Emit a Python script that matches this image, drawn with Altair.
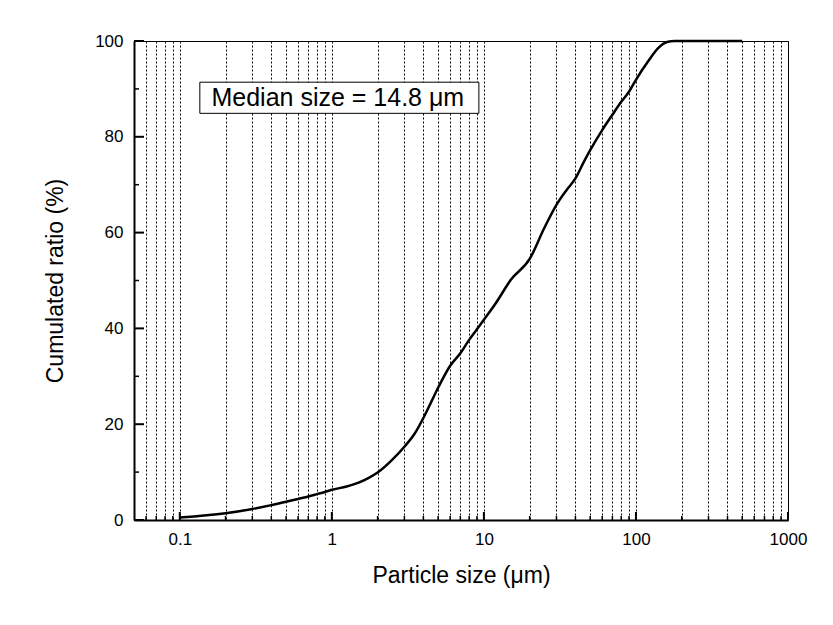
import altair as alt
import pandas as pd

# Cumulative particle size distribution
SIZE_UM = [0.1, 0.2, 0.3, 0.4, 0.5, 0.6, 0.7, 0.8, 0.9, 1.0, 1.25, 1.5, 1.75, 2.0, 2.5,
           3.0, 3.5, 4.0, 4.5, 5.0, 6.0, 7.0, 8.0, 9.0, 10.0, 12.0, 15.0, 20.0, 25.0,
           30.0, 35.0, 40.0, 45.0, 50.0, 60.0, 70.0, 80.0, 90.0, 100.0, 120.0, 140.0,
           160.0, 180.0, 200.0, 300.0, 500.0]
CUM_PCT = [0.5, 1.4, 2.3, 3.1, 3.8, 4.4, 4.9, 5.4, 5.85, 6.3, 7.0, 7.8, 8.8, 9.9, 12.6,
           15.3, 18.0, 21.3, 24.6, 27.6, 32.2, 34.8, 37.6, 39.8, 41.8, 45.3, 50.1, 54.5, 61.0,
           65.8, 68.9, 71.3, 74.5, 77.2, 81.4, 84.6, 87.3, 89.4, 91.9, 95.7, 98.5,
           99.8, 100.0, 100.0, 100.0, 100.0]

X_MAJOR = [0.1, 1, 10, 100, 1000]
X_MINOR = [0.06, 0.07, 0.08, 0.09,
           0.2, 0.3, 0.4, 0.5, 0.6, 0.7, 0.8, 0.9,
           2, 3, 4, 5, 6, 7, 8, 9,
           20, 30, 40, 50, 60, 70, 80, 90,
           200, 300, 400, 500, 600, 700, 800, 900]
Y_MAJOR = [0, 20, 40, 60, 80, 100]
Y_MINOR = [10, 30, 50, 70, 90]

ANNOT_TEXT = "Median size = 14.8 \u03bcm"

FONT = "Liberation Sans"
W, H = 654, 479

line_df = pd.DataFrame({"x": SIZE_UM, "y": CUM_PCT})
xmaj_df = pd.DataFrame({"x": X_MAJOR})
xmin_df = pd.DataFrame({"x": X_MINOR})
ymaj_df = pd.DataFrame({"y": Y_MAJOR})
ymin_df = pd.DataFrame({"y": Y_MINOR})
grid_vals = sorted(X_MAJOR + X_MINOR)

xscale = alt.Scale(type="log", domain=[0.05, 1000], nice=False)
yscale = alt.Scale(domain=[0, 100], nice=False, zero=True)

xaxis = alt.Axis(
    values=grid_vals, grid=True, gridDash=[2, 2], gridColor="black", gridWidth=1,
    gridOpacity=1, ticks=False, tickSize=0, domainColor="black", domainWidth=2,
    labelExpr="(datum.value == 0.1 || datum.value == 1 || datum.value == 10 || "
              "datum.value == 100 || datum.value == 1000) ? format(datum.value, '~g') : ''",
    labelFontSize=17, labelPadding=11, labelColor="black", labelFont=FONT,
    labelOverlap=False, labelFlush=False, labelBound=False,
    title="Particle size (\u03bcm)", titleFontSize=23, titleFontWeight="normal",
    titleFont=FONT, titleColor="black", titlePadding=17,
)
yaxis = alt.Axis(
    values=Y_MAJOR, grid=False, ticks=False, tickSize=0, domainColor="black",
    domainWidth=2, labelFontSize=17, labelPadding=11, labelColor="black",
    labelFont=FONT, labelFlush=False, labelOverlap=False,
    title="Cumulated ratio (%)", titleFontSize=23, titleFontWeight="normal",
    titleFont=FONT, titleColor="black", titlePadding=27,
)


def X(field="x"):
    return alt.X(f"{field}:Q", scale=xscale, axis=xaxis)


def Y(field="y"):
    return alt.Y(f"{field}:Q", scale=yscale, axis=yaxis)


annot_df = pd.DataFrame({"x": [0.1355], "x2": [9.27], "y": [84.9], "y2": [91.4],
                         "tx": [1.095], "ty": [88.1], "label": [ANNOT_TEXT]})

box = alt.Chart(annot_df).mark_rect(fill="white", stroke="black", strokeWidth=1).encode(
    x=X(), x2="x2:Q", y=Y(), y2="y2:Q")
label = alt.Chart(annot_df).mark_text(
    font=FONT, fontSize=25, color="black", align="center", baseline="middle").encode(
    x=alt.X("tx:Q", scale=xscale, axis=xaxis),
    y=alt.Y("ty:Q", scale=yscale, axis=yaxis), text="label:N")

curve = alt.Chart(line_df).mark_line(color="black", strokeWidth=2.5,
                                     interpolate="monotone").encode(x=X(), y=Y())

xt_major = alt.Chart(xmaj_df).mark_rule(color="black", strokeWidth=2).encode(
    x=X(), y=alt.value(H), y2=alt.value(H - 8))
xt_minor = alt.Chart(xmin_df).mark_rule(color="black", strokeWidth=1.5).encode(
    x=X(), y=alt.value(H), y2=alt.value(H - 4))
yt_major = alt.Chart(ymaj_df).mark_rule(color="black", strokeWidth=2).encode(
    y=Y(), x=alt.value(0), x2=alt.value(10))
yt_minor = alt.Chart(ymin_df).mark_rule(color="black", strokeWidth=1.5).encode(
    y=Y(), x=alt.value(0), x2=alt.value(5))

chart = alt.layer(box, label, curve, xt_major, xt_minor, yt_major, yt_minor).properties(
    width=W, height=H,
    autosize=alt.AutoSizeParams(type="none"),
    padding={"left": 126, "top": 33, "right": 30, "bottom": 80},
    background="white",
).configure_view(stroke="black", strokeWidth=1)

chart.save("out.html", embed_options={"renderer": "svg", "actions": False})
